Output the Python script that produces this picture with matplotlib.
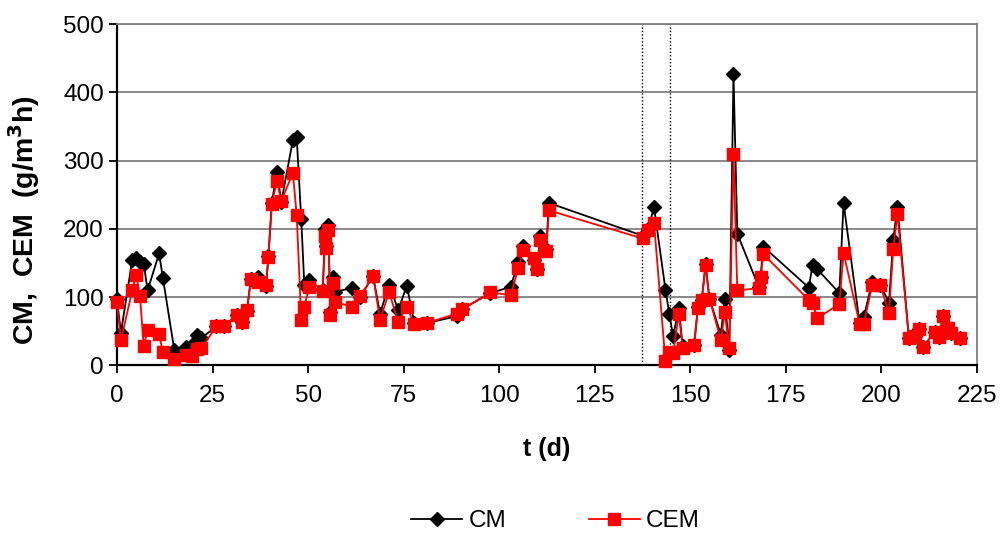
"""Specific methane removal rates CM and CEM over the run time."""

import matplotlib

matplotlib.use("Agg")
import matplotlib.pyplot as plt

# sampling days (d) and rates (g/m3h)
days = [0, 1, 4, 5, 6, 7, 8, 11, 12, 15,
        18, 19.5, 21, 22, 26, 28, 31.3, 32.6, 34, 35,
        37, 39, 39.6, 40.5, 41.8, 43, 46, 47, 48.2, 49,
        50.3, 53.8, 54.5, 54.8, 55.3, 55.8, 56.5, 57, 61.4, 63.6,
        67, 68.8, 71.2, 73.6, 75.8, 77.8, 81, 88.9, 90.2, 97.7,
        103, 105, 106.3, 109, 109.8, 110.8, 112.3, 113, 137.5, 139,
        140.5, 143.5, 144.5, 145.5, 147, 148, 151, 152, 153, 154,
        155, 158, 159, 160.2, 161.3, 162.3, 167.9, 168.4, 169.1, 181,
        182, 183.2, 189, 190.1, 194.3, 195.4, 197.6, 199.7, 202, 203.1,
        204.2, 207.2, 208.9, 209.8, 210.8, 214.1, 215, 216.2, 217.5, 218.3,
        220.7]

cm = [97, 48, 155, 157, 152, 148, 110, 164, 128, 22,
      27, 30, 45, 40, 57, 57, 74, 64, 80, 126,
      130, 116, 160, 238, 283, 240, 330, 335, 214, 118,
      125, 110, 200, 175, 205, 78, 130, 108, 113, 100,
      131, 76, 118, 81, 117, 62, 62, 72, 82, 106,
      115, 152, 175, 155, 141, 190, 170, 238, 190, 200,
      232, 111, 76, 43, 84, 28, 30, 86, 96, 148,
      98, 45, 98, 22, 427, 193, 115, 130, 174, 114,
      147, 141, 106, 238, 62, 71, 122, 118, 92, 184,
      232, 40, 43, 54, 27, 49, 42, 72, 55, 47,
      40]

cem = [93, 37, 110, 133, 101, 28, 52, 46, 19, 9,
       15, 14, 24, 25, 57, 57, 74, 64, 81, 126,
       122, 118, 159, 236, 270, 241, 282, 221, 67, 86,
       115, 109, 189, 172, 198, 74, 121, 93, 86, 101,
       131, 67, 107, 64, 86, 60, 62, 76, 82, 107,
       103, 142, 169, 157, 141, 184, 167, 227, 186, 198,
       209, 6, 20, 18, 76, 25, 30, 84, 96, 147,
       98, 37, 78, 25, 310, 110, 113, 129, 163, 96,
       92, 69, 90, 165, 61, 61, 118, 118, 77, 171,
       222, 40, 43, 54, 27, 49, 42, 72, 55, 47,
       40]

# interruption period marked by dotted lines
breaks = [137.3, 144.7]

x_ticks = list(range(0, 226, 25))
y_ticks = list(range(0, 501, 100))

plt.rcParams["font.family"] = ["Liberation Sans", "DejaVu Sans"]
FS = 17.5

fig = plt.figure(figsize=(10.03, 5.35), dpi=100)
ax = fig.add_axes([0.1167, 0.317, 0.8573, 0.638])

for yv in y_ticks[1:]:
    ax.axhline(yv, color="#808080", lw=1.3, zorder=0)
for xb in breaks:
    ax.axvline(xb, color="black", lw=1.0, ls=(0, (1, 1.5)), zorder=1)

ax.plot(days, cm, color="black", lw=1.3, marker="D", ms=7,
        mfc="black", mec="black", label="CM", zorder=3, clip_on=False)
ax.plot(days, cem, color="#ff0000", lw=1.3, marker="s", ms=8,
        mfc="#ff0000", mec="#ff0000", label="CEM", zorder=4, clip_on=False)

ax.set_xlim(0, 225)
ax.set_ylim(0, 500)
ax.set_xticks(x_ticks)
ax.set_yticks(y_ticks)
ax.tick_params(axis="both", labelsize=FS, direction="out", length=6, width=1.3)
ax.tick_params(axis="x", pad=8)

for side in ("top", "right"):
    ax.spines[side].set_color("#808080")
    ax.spines[side].set_linewidth(1.3)
for side in ("left", "bottom"):
    ax.spines[side].set_linewidth(1.6)

ax.set_xlabel("t (d)", fontsize=18, fontweight="bold", labelpad=22)
ax.set_ylabel("CM,  CEM  (g/m$^{\\mathbf{3}}$h)", fontsize=20.5, fontweight="bold")
ax.yaxis.set_label_coords(-0.087, 0.426)

fig.legend(loc="center", bbox_to_anchor=(0.554, 0.026), ncol=2, frameon=False,
           fontsize=FS, handlelength=2.1, columnspacing=3.4, handletextpad=0.25)

fig.savefig("out.png", dpi=100)
plt.close(fig)
